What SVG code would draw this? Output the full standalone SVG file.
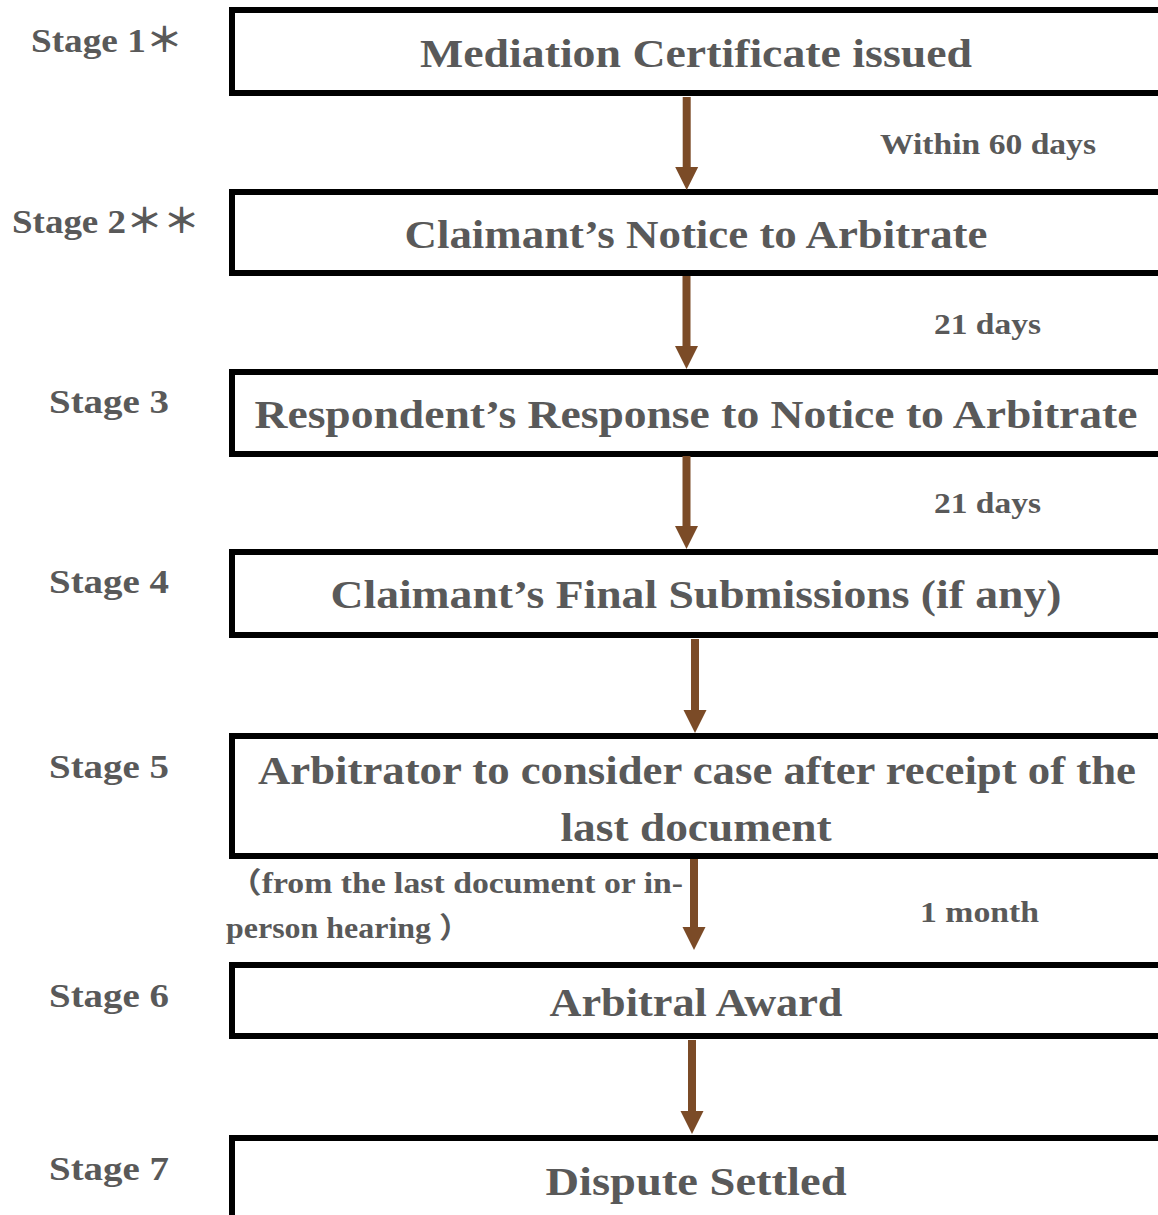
<svg xmlns="http://www.w3.org/2000/svg" width="1158" height="1215" viewBox="0 0 1158 1215">
  <style>
    .box { fill: #ffffff; stroke: #000000; stroke-width: 6; }
    .t { font-family: "Liberation Serif", "Noto Sans CJK SC", serif; font-weight: bold; fill: #595959; }
    .main { font-size: 40px; text-anchor: middle; }
    .stage { font-size: 34px; }
    .lbl { font-size: 29px; }
    .conn { stroke: #7B4B27; stroke-width: 8; fill: none; marker-end: url(#head); }
  </style>
  <defs>
    <marker id="head" markerUnits="userSpaceOnUse" viewBox="0 -12 24 24" markerWidth="24" markerHeight="24" refX="0" refY="0" orient="auto">
      <path d="M0,-11.5 L23,0 L0,11.5 Z" fill="#7B4B27"/>
    </marker>
  </defs>
  <rect width="1158" height="1215" fill="#ffffff"/>

  <g id="stage1">
    <text class="t stage" x="31" y="52" textLength="152" lengthAdjust="spacingAndGlyphs">Stage 1＊</text>
    <rect class="box" x="232" y="10" width="940" height="83"/>
    <text class="t main" x="696" y="67" textLength="552" lengthAdjust="spacingAndGlyphs">Mediation Certificate issued</text>
  </g>
  <g id="stage2">
    <text class="t stage" x="12" y="233" textLength="188" lengthAdjust="spacingAndGlyphs">Stage 2＊＊</text>
    <rect class="box" x="232" y="192" width="940" height="81"/>
    <text class="t main" x="696" y="248" textLength="583" lengthAdjust="spacingAndGlyphs">Claimant’s Notice to Arbitrate</text>
  </g>
  <g id="stage3">
    <text class="t stage" x="49" y="413" textLength="120" lengthAdjust="spacingAndGlyphs">Stage 3</text>
    <rect class="box" x="232" y="372" width="940" height="82"/>
    <text class="t main" x="696" y="428" textLength="883" lengthAdjust="spacingAndGlyphs">Respondent’s Response to Notice to Arbitrate</text>
  </g>
  <g id="stage4">
    <text class="t stage" x="49" y="593" textLength="120" lengthAdjust="spacingAndGlyphs">Stage 4</text>
    <rect class="box" x="232" y="552" width="940" height="83"/>
    <text class="t main" x="696" y="608" textLength="731" lengthAdjust="spacingAndGlyphs">Claimant’s Final Submissions (if any)</text>
  </g>
  <g id="stage5">
    <text class="t stage" x="49" y="778" textLength="120" lengthAdjust="spacingAndGlyphs">Stage 5</text>
    <rect class="box" x="232" y="736" width="940" height="120"/>
    <text class="t main" x="697" y="784" textLength="878" lengthAdjust="spacingAndGlyphs">Arbitrator to consider case after receipt of the</text>
    <text class="t main" x="696" y="841" textLength="271" lengthAdjust="spacingAndGlyphs">last document</text>
  </g>
  <g id="stage6">
    <text class="t stage" x="49" y="1007" textLength="120" lengthAdjust="spacingAndGlyphs">Stage 6</text>
    <rect class="box" x="232" y="965" width="940" height="71"/>
    <text class="t main" x="696" y="1016" textLength="293" lengthAdjust="spacingAndGlyphs">Arbitral Award</text>
  </g>
  <g id="stage7">
    <text class="t stage" x="49" y="1180" textLength="120" lengthAdjust="spacingAndGlyphs">Stage 7</text>
    <rect class="box" x="232" y="1138" width="940" height="120"/>
    <text class="t main" x="696" y="1195" textLength="301" lengthAdjust="spacingAndGlyphs">Dispute Settled</text>
  </g>

  <g id="connectors">
    <line class="conn" x1="686.7" y1="97" x2="686.7" y2="167"/>
    <line class="conn" x1="686.5" y1="276" x2="686.5" y2="346"/>
    <line class="conn" x1="686.5" y1="456" x2="686.5" y2="526"/>
    <line class="conn" x1="695" y1="639" x2="695" y2="710"/>
    <line class="conn" x1="694" y1="859" x2="694" y2="927"/>
    <line class="conn" x1="692" y1="1040" x2="692" y2="1111"/>
  </g>

  <g id="labels">
    <text class="t lbl" x="880" y="154" textLength="216" lengthAdjust="spacingAndGlyphs">Within 60 days</text>
    <text class="t lbl" x="934" y="334" textLength="107" lengthAdjust="spacingAndGlyphs">21 days</text>
    <text class="t lbl" x="934" y="513" textLength="107" lengthAdjust="spacingAndGlyphs">21 days</text>
    <text class="t lbl" x="920" y="922" textLength="119" lengthAdjust="spacingAndGlyphs">1 month</text>
    <text class="t lbl" x="228" y="893" textLength="455" lengthAdjust="spacingAndGlyphs">（from the last document or in-</text>
    <text class="t lbl" x="226" y="938" textLength="245" lengthAdjust="spacingAndGlyphs">person hearing ）</text>
  </g>
</svg>
